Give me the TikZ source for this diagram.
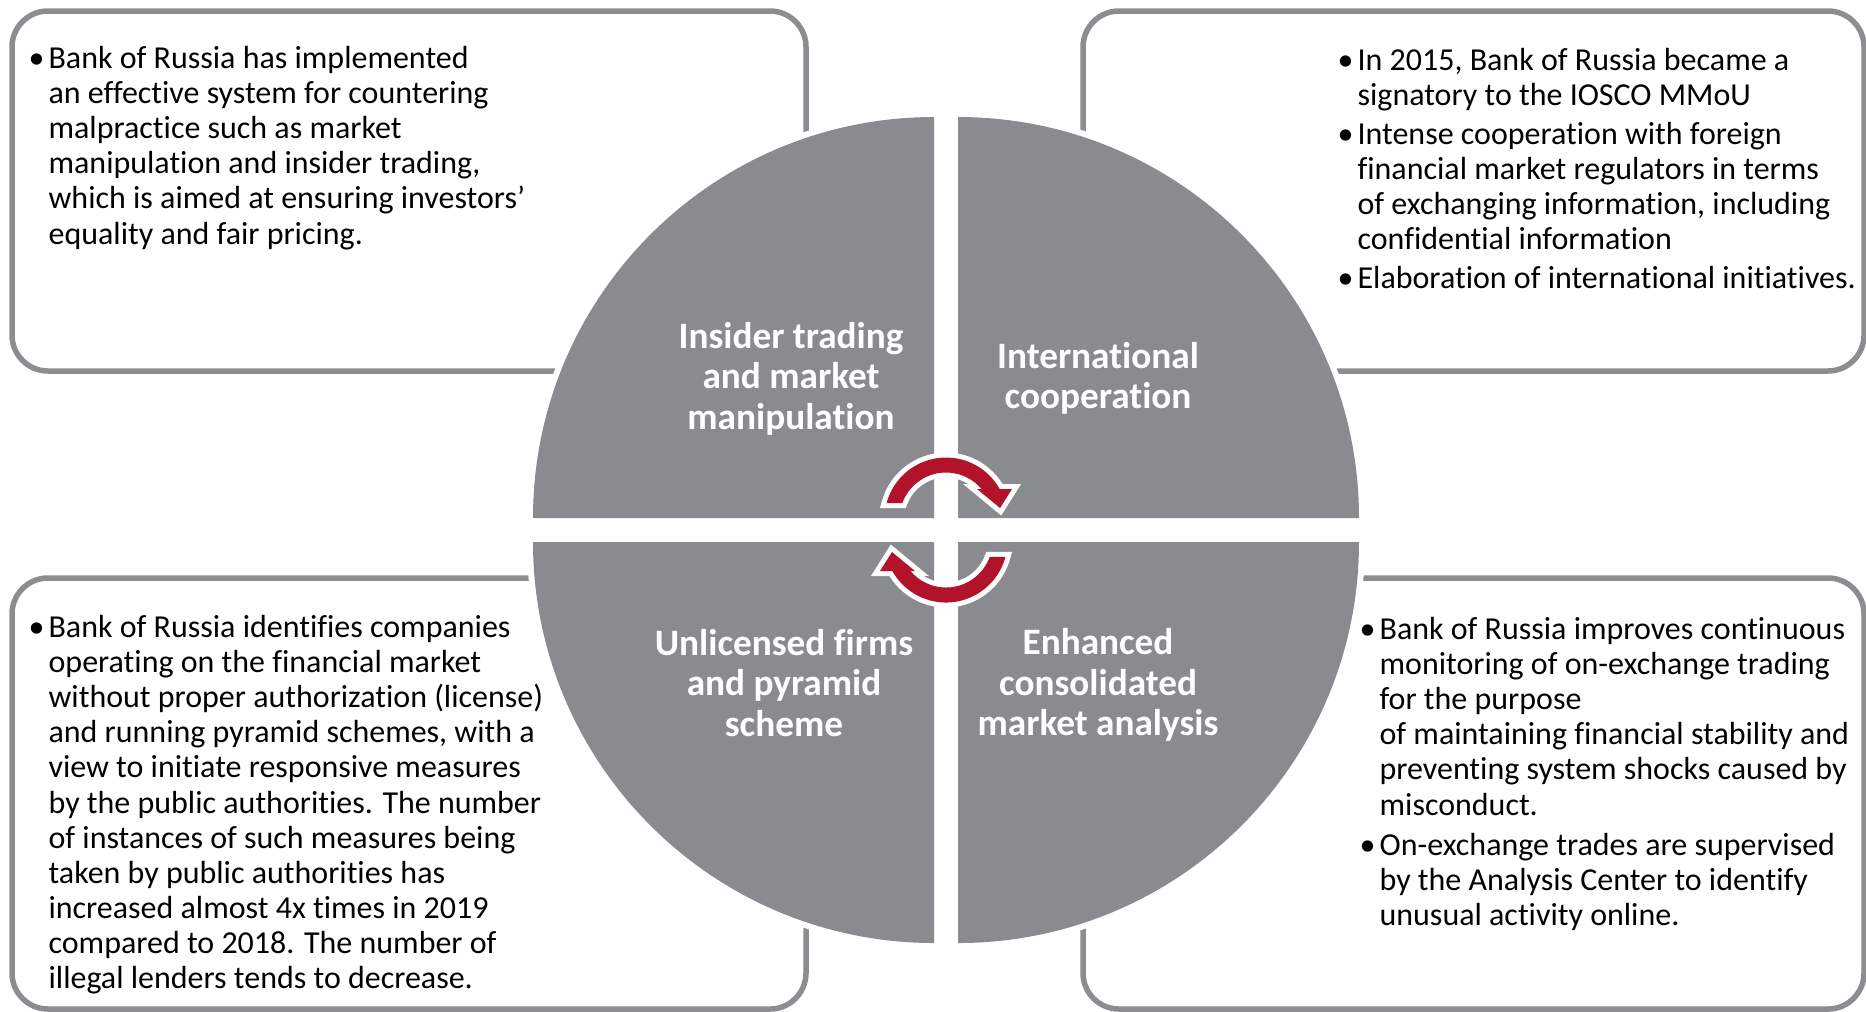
\documentclass[tikz,border=0pt]{standalone}
\usepackage{fontspec}
\setmainfont{Carlito}[Ligatures={TeX,NoCommon}]
\definecolor{qgray}{RGB}{138,139,143}
\definecolor{lgray}{RGB}{140,141,145}
\definecolor{arrred}{RGB}{178,18,42}
\newcommand{\bul}{\makebox[6.8pt]{\textbullet}}

\begin{document}
\begin{tikzpicture}[x=0.1mm, y=-0.1mm,
	frame/.style={draw=lgray, line width=0.55mm, rounded corners=3.6mm},
	quad/.style={fill=qgray, preaction={draw=white, line width=1.2mm}},
	cyc/.style={fill=arrred, preaction={draw=white, line width=1mm, line join=miter}},
	lbl/.style={text=white, align=center, font=\bfseries\fontsize{10.6}{11.5}\selectfont},
	txt/.style={anchor=north west, inner sep=0pt, font=\fontsize{9.1}{10.0}\selectfont}]
	\useasboundingbox (0,0) rectangle (1866,1011);
	% frames behind the circle
	\foreach \x/\y/\X/\Y in {12/11/806/371, 1083/11/1864/371, 12/578/806/1009, 1083/578/1864/1009}
		{\draw[frame] (\x,\y) rectangle (\X,\Y);}
	% four quarters
	\foreach \cx/\cy/\a in {934/518/180, 958/518/270, 958/542/0, 934/542/90}
		{\path[quad] (\cx,\cy) -- ++(\a:401) arc[start angle=\a, end angle=\a+90, radius=401] -- cycle;}
	% the two turning arrows
	\foreach \cy/\r in {519/0, 541/180} {
		\begin{scope}[shift={(946,\cy)}, rotate=\r]
			\path[cyc] (-165:61.5) arc[start angle=-165, end angle=-29.2, radius=61.5] -- (66,-30) -- (54,-11) -- (31,-30) -- (-40.2:46.5) arc[start angle=-40.2, end angle=-160, radius=46.5] -- cycle;
		\end{scope}
	}
	\node[lbl] (insider) at (791,378.5) {Insider trading\\and market\\manipulation};
	\node[lbl] (intl) at (1098,378.5) {International\\cooperation};
	\node[lbl] (unlic) at (784,683) {Unlicensed firms\\and pyramid\\scheme};
	\node[lbl] (enh) at (1098,685) {Enhanced\\consolidated\\market analysis};
	\node[txt] (tltext) at (24,43) {\begin{tabular}{@{}l@{}l@{}}
		\bul & Bank of Russia has implemented\\
		& an effective system for countering\\
		& malpractice such as market\\
		& manipulation and insider trading,\\
		& which is aimed at ensuring investors'\\
		& equality and fair pricing.
	\end{tabular}};
	\node[txt] (trtext) at (1333,45) {\begin{tabular}{@{}l@{}l@{}}
		\bul & In 2015, Bank of Russia became a\\
		& signatory to the IOSCO MMoU\\[1pt]
		\bul & Intense cooperation with foreign\\
		& financial market regulators in terms\\
		& of exchanging information, including\\
		& confidential information\\[1pt]
		\bul & Elaboration of international initiatives.
	\end{tabular}};
	\node[txt] (bltext) at (24,612) {\begin{tabular}{@{}l@{}l@{}}
		\bul & Bank of Russia identifies companies\\
		& operating on the financial market\\
		& without proper authorization (license)\\
		& and running pyramid schemes, with a\\
		& view to initiate responsive measures\\
		& by the public authorities. The number\\
		& of instances of such measures being\\
		& taken by public authorities has\\
		& increased almost 4x times in 2019\\
		& compared to 2018. The number of\\
		& illegal lenders tends to decrease.
	\end{tabular}};
	\node[txt] (brtext) at (1355,614) {\begin{tabular}{@{}l@{}l@{}}
		\bul & Bank of Russia improves continuous\\
		& monitoring of on-exchange trading\\
		& for the purpose\\
		& of maintaining financial stability and\\
		& preventing system shocks caused by\\
		& misconduct.\\[1.4pt]
		\bul & On-exchange trades are supervised\\
		& by the Analysis Center to identify\\
		& unusual activity online.
	\end{tabular}};
\end{tikzpicture}
\end{document}
